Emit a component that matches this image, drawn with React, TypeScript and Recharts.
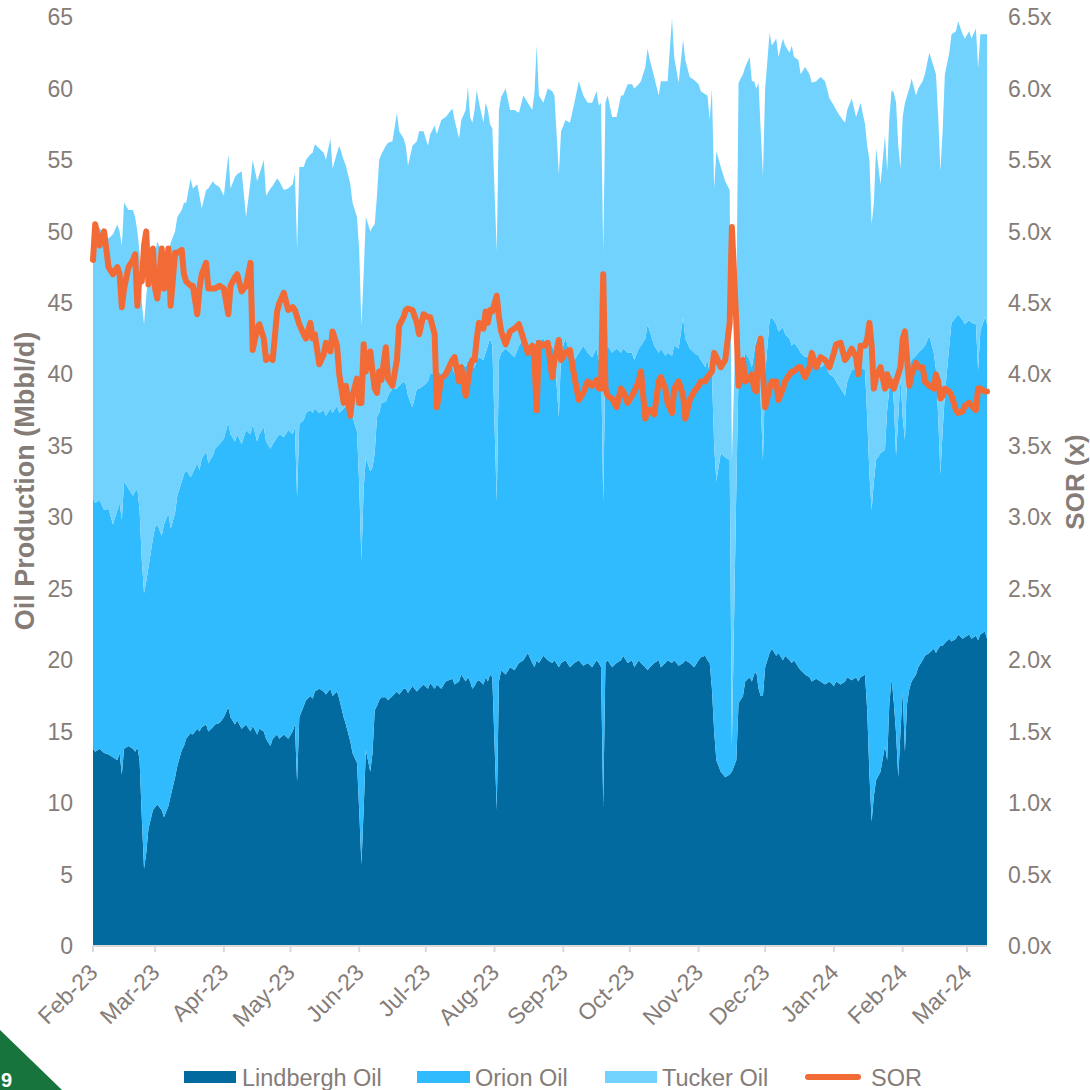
import React from "react";
import { ComposedChart, Area, Line, XAxis, YAxis } from "recharts";

// day index counted from 1 Feb 2023
const days = [
  0, 1, 3, 5, 7, 9, 11, 12, 13, 14,
  16, 18, 19, 20, 21, 22, 23, 24, 25, 27,
  28, 29, 31, 32, 34, 35, 37, 38, 40, 41,
  42, 44, 45, 47, 48, 49, 51, 52, 54, 55,
  57, 59, 61, 62, 64, 65, 67, 69, 71, 72,
  74, 75, 77, 78, 80, 81, 83, 84, 86, 88,
  90, 91, 92, 93, 95, 96, 98, 99, 100, 102,
  104, 105, 107, 108, 110, 111, 113, 114, 116, 117,
  119, 120, 121, 122, 123, 125, 126, 127, 128, 129,
  130, 132, 133, 135, 137, 138, 140, 141, 142, 144,
  146, 147, 149, 151, 152, 154, 155, 157, 159, 162,
  163, 165, 166, 168, 169, 170, 171, 172, 173, 174,
  176, 177, 178, 179, 180, 182, 183, 184, 186, 188,
  190, 192, 194, 196, 198, 199, 200, 201, 203, 205,
  207, 208, 210, 211, 213, 215, 217, 219, 221, 223,
  225, 227, 228, 229, 230, 231, 232, 234, 236, 238,
  239, 241, 243, 244, 246, 247, 249, 250, 251, 253,
  255, 256, 258, 259, 261, 262, 264, 266, 267, 269,
  271, 273, 274, 276, 277, 278, 279, 280, 281, 283,
  285, 287, 288, 290, 291, 293, 294, 296, 297, 298,
  299, 300, 301, 302, 303, 305, 306, 308, 309, 311,
  312, 314, 315, 316, 318, 319, 321, 323, 324, 326,
  328, 330, 332, 334, 335, 337, 339, 340, 342, 344,
  345, 346, 348, 349, 350, 351, 352, 353, 355, 357,
  358, 359, 360, 361, 362, 363, 364, 365, 366, 367,
  368, 369, 371, 372, 374, 375, 377, 379, 380, 381,
  382, 383, 384, 386, 387, 389, 390, 392, 393, 395,
  396, 398, 399, 400, 402, 403,
];

const lindbergh = [
  13.8, 13.6, 13.8, 13.5, 13.4, 13.2, 13.0, 13.5, 12.0, 13.8,
  14.0, 13.8, 13.6, 13.9, 13.0, 9.0, 5.4, 6.5, 8.2, 9.5,
  9.7, 9.9, 9.5, 9.0, 9.8, 10.5, 11.8, 12.6, 13.7, 14.0,
  14.5, 14.9, 14.8, 15.2, 15.0, 15.3, 15.5, 15.0, 15.3, 15.5,
  15.6, 16.0, 16.7, 16.0, 15.5, 15.8, 15.2, 15.5, 15.0, 15.4,
  14.8, 15.2, 15.0, 14.5, 14.0, 14.5, 14.8, 14.5, 14.8, 14.5,
  15.0, 15.5, 11.5, 16.0, 16.8, 17.2, 17.5, 17.3, 17.8, 18.0,
  17.8, 17.6, 18.0, 17.5, 17.8, 17.3, 16.0, 15.5, 14.3, 13.5,
  12.8, 9.5, 5.7, 9.5, 13.7, 12.2, 13.5, 16.5, 16.8, 17.2,
  17.4, 17.4, 17.2, 17.5, 17.8, 17.6, 18.0, 18.0, 17.7, 18.2,
  17.8, 18.0, 18.3, 18.0, 18.4, 18.0, 18.3, 18.0, 18.5, 18.7,
  18.3, 18.5, 19.0, 18.5, 18.8, 18.5, 18.0, 18.2, 18.5, 18.6,
  18.3, 18.8, 18.5, 19.0, 18.8, 9.5, 18.5, 19.3, 19.0, 19.5,
  19.3, 19.8, 20.0, 20.5, 19.8, 19.5, 20.0, 19.8, 20.3, 20.0,
  19.8, 20.0, 19.5, 19.8, 20.0, 19.5, 19.8, 20.0, 19.6, 19.8,
  19.5, 20.0, 19.8, 19.5, 9.8, 19.8, 20.0, 19.5, 19.8, 20.0,
  20.3, 19.8, 20.0, 19.5, 20.0, 19.8, 19.5, 19.3, 19.5, 19.8,
  20.0, 19.5, 19.8, 20.0, 19.8, 20.0, 19.6, 19.8, 20.0, 19.8,
  19.5, 20.0, 20.2, 20.3, 20.0, 19.8, 18.0, 15.0, 13.0, 12.2,
  11.8, 12.0, 12.2, 13.0, 17.0, 17.5, 18.5, 18.8, 18.5, 19.0,
  19.2, 18.0, 17.5, 17.5, 19.5, 20.5, 20.8, 20.3, 20.5, 20.0,
  20.3, 20.0, 19.8, 20.0, 19.5, 19.3, 19.0, 18.8, 18.5, 18.7,
  18.5, 18.3, 18.5, 18.2, 18.5, 18.3, 18.5, 18.8, 18.6, 18.8,
  18.5, 18.8, 19.0, 16.5, 12.0, 8.7, 10.5, 11.6, 12.2, 14.0,
  13.0, 17.0, 18.7, 17.0, 14.9, 11.8, 15.0, 17.8, 13.6, 17.0,
  18.0, 18.5, 19.0, 19.5, 20.0, 20.3, 20.5, 20.8, 20.5, 20.8,
  21.0, 21.0, 21.2, 21.5, 21.3, 21.5, 21.8, 21.5, 21.6, 21.8,
  21.5, 21.7, 21.4, 21.8, 22.0, 21.5,
];

const orion = [
  17.5, 17.4, 17.4, 17.0, 17.2, 16.3, 17.5, 17.5, 17.8, 18.7,
  18.0, 17.7, 18.2, 18.1, 17.5, 18.0, 19.3, 19.0, 18.3, 19.0,
  19.6, 19.6, 19.2, 20.5, 20.5, 18.7, 18.5, 18.9, 18.8, 19.0,
  18.8, 17.9, 18.3, 18.6, 18.3, 18.8, 19.1, 18.8, 19.0, 19.3,
  19.5, 19.5, 19.9, 19.8, 19.8, 20.0, 19.9, 20.6, 20.8, 21.1,
  20.5, 20.6, 21.3, 20.8, 20.8, 20.6, 20.8, 21.3, 20.8, 21.6,
  20.8, 20.8, 19.9, 20.5, 20.0, 20.1, 20.0, 20.0, 19.8, 19.3,
  19.7, 19.5, 19.6, 19.8, 20.0, 20.0, 21.6, 22.3, 23.8, 23.5,
  23.2, 22.8, 21.3, 22.5, 20.5, 21.0, 20.0, 18.0, 20.2, 20.1,
  20.6, 20.7, 21.3, 21.5, 21.2, 21.6, 21.5, 21.3, 20.8, 19.5,
  21.2, 21.0, 20.9, 21.5, 21.7, 22.0, 22.0, 22.0, 21.8, 21.8,
  21.7, 22.0, 21.8, 22.0, 22.2, 22.3, 22.5, 22.3, 22.5, 22.6,
  22.7, 22.7, 23.5, 23.5, 23.2, 21.6, 22.5, 22.2, 22.8, 22.0,
  21.9, 22.2, 22.5, 21.5, 22.5, 22.5, 22.5, 22.5, 22.2, 22.0,
  22.2, 21.5, 17.5, 21.7, 22.5, 22.0, 21.2, 21.5, 22.4, 21.7,
  21.7, 21.8, 21.2, 22.0, 21.3, 21.2, 22.0, 22.0, 22.0, 21.5,
  21.5, 21.7, 21.5, 21.5, 21.8, 22.2, 23.0, 24.2, 23.5, 22.2,
  21.5, 22.3, 21.5, 21.5, 21.5, 22.0, 22.2, 24.2, 22.5, 22.0,
  22.0, 21.3, 20.8, 20.2, 21.0, 20.2, 22.0, 20.0, 19.5, 22.3,
  22.4, 22.0, 1.8, 19.0, 23.0, 23.0, 23.0, 22.2, 22.0, 22.5,
  23.3, 23.5, 20.5, 16.5, 20.5, 23.3, 23.2, 23.2, 22.5, 23.3,
  22.5, 22.5, 22.2, 22.2, 22.3, 22.2, 22.2, 22.5, 22.3, 22.3,
  22.0, 22.4, 21.5, 21.6, 21.0, 20.7, 20.0, 20.7, 21.7, 21.5,
  21.5, 21.7, 21.3, 20.5, 21.0, 21.8, 22.0, 22.4, 22.3, 20.7,
  24.5, 22.0, 21.5, 21.0, 19.4, 25.2, 24.7, 19.2, 21.8, 23.3,
  22.5, 22.5, 22.3, 22.0, 21.8, 21.7, 22.2, 20.7, 19.8, 16.2,
  12.0, 15.0, 17.4, 20.5, 22.3, 22.5, 22.4, 22.3, 21.9, 22.0,
  22.1, 21.8, 18.9, 21.2, 22.0, 22.0,
];

const tucker = [
  17.2, 19.5, 19.0, 19.3, 18.9, 20.3, 20.0, 19.0, 19.2, 19.5,
  19.5, 20.0, 19.2, 18.0, 18.0, 18.0, 18.8, 20.0, 20.5, 19.5,
  19.2, 19.8, 19.8, 17.9, 18.2, 20.0, 19.7, 19.5, 19.0, 19.0,
  18.7, 20.9, 19.9, 19.5, 19.2, 17.5, 18.3, 19.2, 19.2, 18.5,
  18.0, 17.0, 18.8, 17.2, 18.5, 18.2, 19.1, 14.9, 17.7, 18.5,
  18.2, 18.2, 18.7, 17.2, 18.2, 18.1, 18.1, 17.7, 17.3, 16.9,
  17.5, 17.8, 17.4, 18.0, 17.7, 17.7, 17.9, 18.2, 18.5, 18.5,
  18.0, 17.9, 18.9, 17.1, 17.7, 18.7, 17.4, 16.8, 15.2, 15.0,
  15.0, 16.4, 16.4, 15.0, 16.8, 16.8, 16.8, 16.0, 15.5, 17.7,
  17.4, 17.9, 17.7, 17.3, 19.3, 17.8, 17.0, 16.7, 16.1, 18.3,
  17.3, 18.0, 17.8, 16.5, 16.7, 17.4, 16.5, 17.8, 17.7, 18.1,
  17.8, 16.0, 17.0, 18.0, 19.1, 17.2, 17.1, 18.0, 18.9, 17.8,
  16.6, 17.5, 16.5, 15.0, 15.2, 17.5, 17.5, 17.9, 18.2, 17.0,
  17.3, 16.3, 17.0, 17.0, 16.2, 17.7, 20.5, 17.2, 16.5, 18.0,
  17.8, 18.0, 17.0, 15.5, 15.3, 16.1, 18.0, 19.0, 17.5, 17.5,
  17.8, 18.0, 17.8, 17.5, 17.5, 18.0, 17.5, 16.5, 16.2, 18.0,
  17.7, 18.8, 18.8, 19.0, 18.5, 18.5, 19.0, 19.3, 19.0, 18.8,
  18.0, 18.7, 19.2, 19.0, 23.6, 20.2, 18.6, 19.4, 19.5, 19.0,
  19.1, 19.0, 18.8, 19.1, 18.5, 17.8, 20.0, 18.0, 23.1, 20.0,
  19.3, 18.9, 20.0, 13.0, 20.4, 20.5, 20.0, 21.2, 20.0, 19.0,
  17.5, 18.9, 19.0, 19.9, 20.0, 20.1, 19.0, 20.0, 19.2, 20.2,
  20.2, 20.0, 21.0, 20.0, 20.2, 19.5, 20.3, 19.7, 19.6, 19.5,
  20.3, 19.8, 19.3, 19.0, 19.0, 19.0, 19.1, 19.0, 19.0, 17.7,
  18.5, 18.5, 17.2, 19.0, 22.0, 20.0, 19.5, 21.8, 18.8, 22.0,
  16.7, 19.0, 19.7, 21.7, 24.7, 19.0, 14.7, 21.0, 23.6, 19.2,
  19.5, 19.7, 18.2, 18.5, 18.7, 19.0, 19.8, 20.0, 20.7, 21.0,
  21.2, 21.0, 22.4, 20.5, 20.2, 20.0, 20.5, 20.0, 20.0, 20.2,
  19.9, 20.7, 21.1, 20.8, 19.8, 20.3,
];

const sor = [
  4.8, 5.05, 4.9, 5.0, 4.75, 4.7, 4.75, 4.7, 4.47, 4.6,
  4.75, 4.8, 4.84, 4.48, 4.7, 4.65, 4.9, 5.0, 4.63, 4.88,
  4.6, 4.53, 4.88, 4.6, 4.88, 4.48, 4.85, 4.85, 4.87, 4.7,
  4.65, 4.62, 4.62, 4.42, 4.6, 4.7, 4.78, 4.6, 4.6, 4.6,
  4.62, 4.6, 4.42, 4.62, 4.68, 4.7, 4.58, 4.62, 4.78, 4.17,
  4.32, 4.35, 4.25, 4.1, 4.12, 4.1, 4.44, 4.5, 4.57, 4.45,
  4.47, 4.45, 4.4, 4.35, 4.28, 4.25, 4.36, 4.25, 4.28, 4.07,
  4.14, 4.22, 4.16, 4.3, 4.2, 4.0, 3.8, 3.92, 3.71, 3.85,
  3.97, 3.8, 3.8, 4.21, 4.02, 4.16, 4.02, 3.9, 3.87, 4.02,
  3.96, 4.19, 3.97, 3.92, 4.1, 4.34, 4.4, 4.45, 4.46, 4.45,
  4.36, 4.28, 4.42, 4.4, 4.4, 4.28, 3.77, 3.97, 4.0, 4.1,
  4.12, 3.95, 4.05, 3.85, 3.95, 4.05, 4.1, 4.1, 4.25, 4.36,
  4.32, 4.44, 4.36, 4.45, 4.44, 4.55, 4.4, 4.3, 4.21, 4.3,
  4.32, 4.35, 4.25, 4.15, 4.2, 4.1, 3.75, 4.22, 4.2, 4.22,
  3.98, 4.1, 4.24, 4.1, 4.15, 4.17, 3.98, 3.82, 3.87, 3.95,
  3.92, 3.96, 3.9, 3.9, 4.7, 3.9, 3.85, 3.83, 3.77, 3.9,
  3.88, 3.8, 3.85, 3.88, 3.95, 4.02, 3.69, 3.75, 3.75, 3.72,
  3.95, 3.98, 3.9, 3.8, 3.73, 3.9, 3.95, 3.85, 3.69, 3.82,
  3.88, 3.92, 3.95, 3.95, 3.98, 4.0, 4.02, 4.15, 4.12, 4.05,
  4.1, 4.36, 5.03, 4.36, 3.92, 4.1, 3.95, 3.97, 4.0, 3.9,
  3.88, 4.18, 4.25, 4.0, 3.77, 3.9, 3.95, 3.95, 3.82, 3.9,
  3.95, 4.0, 4.02, 4.02, 4.05, 4.05, 3.98, 4.05, 4.15, 4.05,
  4.12, 4.1, 4.05, 4.15, 4.21, 4.22, 4.1, 4.12, 4.18, 4.12,
  4.0, 4.2, 4.2, 4.25, 4.36, 4.2, 3.9, 3.98, 4.05, 3.9,
  4.0, 3.92, 3.95, 3.9, 3.95, 4.0, 4.05, 4.25, 4.3, 4.1,
  3.92, 4.0, 4.08, 4.05, 4.05, 3.95, 3.92, 3.9, 4.0, 3.95,
  3.83, 3.85, 3.9, 3.88, 3.85, 3.75, 3.73, 3.74, 3.78, 3.8,
  3.78, 3.75, 3.9, 3.9, 3.88, 3.88,
];

const monthTicks = [0, 28, 59, 89, 120, 150, 181, 212, 242, 273, 303, 334, 365, 394];
const monthLabels = [
  "Feb-23", "Mar-23", "Apr-23", "May-23", "Jun-23", "Jul-23", "Aug-23",
  "Sep-23", "Oct-23", "Nov-23", "Dec-23", "Jan-24", "Feb-24", "Mar-24",
];
const leftTicks = [0, 5, 10, 15, 20, 25, 30, 35, 40, 45, 50, 55, 60, 65];
const rightTicks = [0, 0.5, 1, 1.5, 2, 2.5, 3, 3.5, 4, 4.5, 5, 5.5, 6, 6.5];

const data = days.map((d, i) => ({
  day: d,
  lindbergh: lindbergh[i],
  orion: orion[i],
  tucker: tucker[i],
  sor: sor[i],
}));

const FONT = "'Liberation Sans', Arial, sans-serif";
const GREY = "#857C78";
const C_LIND = "#036A9F";
const C_ORION = "#2FBBFE";
const C_TUCKER = "#72D2FE";
const C_SOR = "#F26B36";

const MonthTick = (props: any) => {
  const { x, y, payload } = props;
  const idx = monthTicks.indexOf(payload.value);
  const ax = x + 6;
  const ay = y + 20;
  return (
    <text
      x={ax}
      y={ay}
      transform={`rotate(-45 ${ax} ${ay})`}
      textAnchor="end"
      fill={GREY}
      fontSize={23}
      fontFamily={FONT}
    >
      {monthLabels[idx]}
    </text>
  );
};

export default function App() {
  return (
    <div
      style={{
        position: "absolute",
        left: 0,
        top: 0,
        width: 1090,
        height: 1090,
        overflow: "hidden",
        background: "#fff",
        fontFamily: FONT,
      }}
    >
      <ComposedChart
        width={1090}
        height={1090}
        data={data}
        margin={{ top: 17, right: 33, bottom: 64, left: 33 }}
      >
        <XAxis
          dataKey="day"
          type="number"
          domain={[0, 403]}
          ticks={monthTicks}
          interval={0}
          tick={<MonthTick />}
          axisLine={{ stroke: "#D9D9D9", strokeWidth: 2 }}
          tickLine={{ stroke: "#D9D9D9", strokeWidth: 2 }}
          tickSize={6}
          height={80}
        />
        <YAxis
          yAxisId="left"
          width={60}
          domain={[0, 65]}
          ticks={leftTicks}
          interval={0}
          axisLine={false}
          tickLine={false}
          tickMargin={14}
          tick={{ fill: GREY, fontSize: 23, fontFamily: FONT }}
        />
        <YAxis
          yAxisId="right"
          orientation="right"
          width={70}
          domain={[0, 6.5]}
          ticks={rightTicks}
          interval={0}
          axisLine={false}
          tickLine={false}
          tickMargin={15}
          tickFormatter={(v: number) => v.toFixed(1) + "x"}
          tick={{ fill: GREY, fontSize: 23, fontFamily: FONT }}
        />
        <Area
          yAxisId="left"
          type="linear"
          dataKey="lindbergh"
          stackId="oil"
          stroke="none"
          fill={C_LIND}
          fillOpacity={1}
          isAnimationActive={false}
        />
        <Area
          yAxisId="left"
          type="linear"
          dataKey="orion"
          stackId="oil"
          stroke="none"
          fill={C_ORION}
          fillOpacity={1}
          isAnimationActive={false}
        />
        <Area
          yAxisId="left"
          type="linear"
          dataKey="tucker"
          stackId="oil"
          stroke="none"
          fill={C_TUCKER}
          fillOpacity={1}
          isAnimationActive={false}
        />
        <Line
          yAxisId="right"
          type="linear"
          dataKey="sor"
          stroke={C_SOR}
          strokeWidth={6}
          strokeLinejoin="round"
          strokeLinecap="round"
          dot={false}
          activeDot={false}
          isAnimationActive={false}
        />
      </ComposedChart>

      <svg
        width={1090}
        height={1090}
        style={{ position: "absolute", left: 0, top: 0, pointerEvents: "none" }}
      >
        <text
          x={25}
          y={481}
          transform="rotate(-90 25 481)"
          textAnchor="middle"
          dominantBaseline="central"
          fill={GREY}
          fontSize={27}
          fontWeight="bold"
          fontFamily={FONT}
        >
          Oil Production (Mbbl/d)
        </text>
        <text
          x={1075}
          y={482}
          transform="rotate(-90 1075 482)"
          textAnchor="middle"
          dominantBaseline="central"
          fill={GREY}
          fontSize={26}
          fontWeight="bold"
          fontFamily={FONT}
        >
          SOR (x)
        </text>

        {/* legend */}
        <rect x={184} y={1071} width={52} height={12} fill={C_LIND} />
        <text x={242} y={1086} fill={GREY} fontSize={23.5} fontFamily={FONT}>
          Lindbergh Oil
        </text>
        <rect x={417} y={1071} width={53} height={12} fill={C_ORION} />
        <text x={475} y={1086} fill={GREY} fontSize={23.5} fontFamily={FONT}>
          Orion Oil
        </text>
        <rect x={605} y={1071} width={52} height={12} fill={C_TUCKER} />
        <text x={662} y={1086} fill={GREY} fontSize={23.5} fontFamily={FONT}>
          Tucker Oil
        </text>
        <line
          x1={808}
          y1={1077}
          x2={858}
          y2={1077}
          stroke={C_SOR}
          strokeWidth={6}
          strokeLinecap="round"
        />
        <text x={871} y={1086} fill={GREY} fontSize={23.5} fontFamily={FONT}>
          SOR
        </text>

        {/* page corner */}
        <polygon points="0,1030 62,1090 0,1090" fill="#17743D" />
        <text x={1} y={1087} fill="#fff" fontSize={20} fontWeight="bold" fontFamily={FONT}>
          9
        </text>
      </svg>
    </div>
  );
}
